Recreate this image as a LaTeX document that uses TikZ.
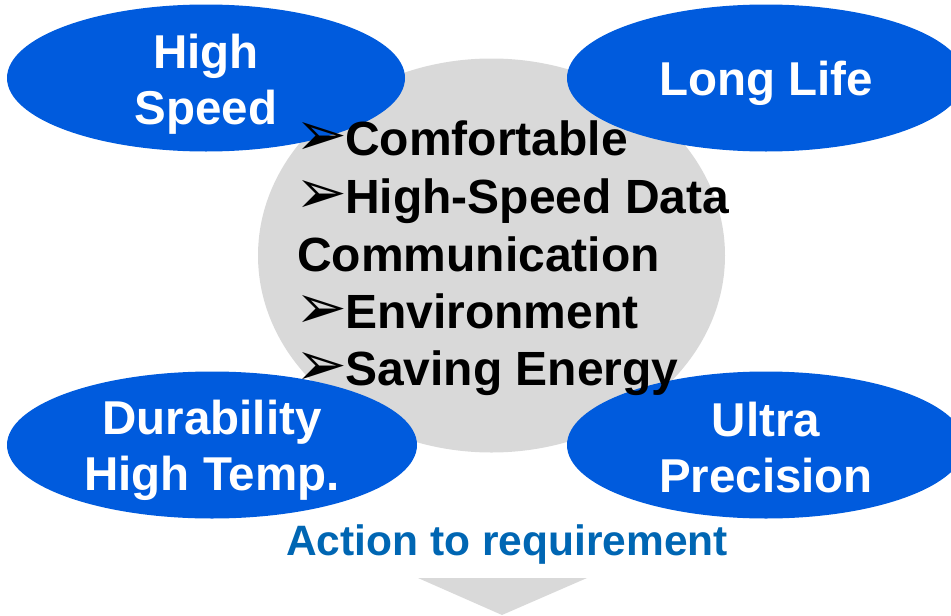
\documentclass[tikz,border=0pt]{standalone}
\usepackage{fontspec}
\setmainfont{Liberation Sans}
\newfontfamily\symfont{DejaVu Sans}
\usetikzlibrary{shapes.geometric}
\definecolor{goalblue}{RGB}{0,91,221}
\definecolor{backgray}{RGB}{217,217,217}
\definecolor{actionblue}{RGB}{0,102,179}
\newcommand{\needmark}{\makebox[45pt][l]{\hspace*{-5pt}\fontsize{62}{57}\symfont\char"27A2}}
\begin{document}
\begin{tikzpicture}[x=1pt,y=-1pt,
	goal/.style={ellipse, fill=goalblue, inner sep=0pt,
		minimum width=398pt, minimum height=147pt},
	goaltext/.style={text=white, inner sep=0pt, align=center,
		font=\fontsize{47.5}{56}\selectfont\bfseries},
	need/.style={anchor=base west, inner sep=0pt,
		font=\fontsize{48}{57}\selectfont\bfseries}]
	\useasboundingbox (0,0) rectangle (951,616);
	\clip (0,0) rectangle (951,616);
	% Background
	\node [ellipse, fill=backgray, minimum width=467pt, minimum height=394pt] (core) at (491.5,255.5) {};
	% Goals
	\node [goal] (speed) at (206,78) {};
	\node [goal] (life) at (766,78) {};
	\node [goal, minimum width=410pt] (durability) at (212,445) {};
	\node [goal] (precision) at (766,445) {};
	\node [goaltext] (speedtext) at ([yshift=-6pt]speed.center) {High\\Speed};
	\node [goaltext] (lifetext) at ([yshift=-5pt]life.center) {Long Life};
	\node [goaltext] (durabilitytext) at ([yshift=-5pt]durability.center) {Durability\\High Temp.};
	\node [goaltext] (precisiontext) at ([yshift=-3pt]precision.center) {Ultra\\Precision};
	
	% Requirements
	\node [need] (comfort) at (300,155) {\needmark Comfortable};
	\node [need] (data) at (300,213) {\needmark High-Speed Data};
	\node [need] (comm) at (297,271) {Communication};
	\node [need] (env) at (300,328) {\needmark Environment};
	\node [need] (energy) at (300,385) {\needmark Saving Energy};
	
	% Action
	\node [text=actionblue, inner sep=0pt, anchor=base, font=\fontsize{42.5}{48}\selectfont\bfseries] (action) at (507,555) {Action to requirement};
	\fill [backgray] (418,578) -- (587,578) -- (502,615) -- cycle;
\end{tikzpicture}
\end{document}
